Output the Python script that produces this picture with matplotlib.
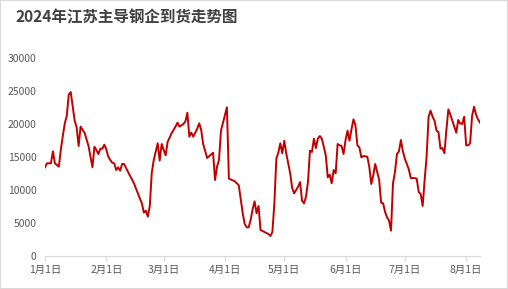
import matplotlib
matplotlib.use('Agg')
import matplotlib.pyplot as plt
import matplotlib.dates as mdates
from matplotlib.patches import Rectangle
import pandas as pd

plt.rcParams['font.family'] = ['Noto Sans CJK SC', 'DejaVu Sans']

title = '2024年江苏主导钢企到货走势图'

# days since 2024-01-01
day_offset = [0, 1, 3, 4, 5, 6, 7, 8, 9, 10, 11, 12, 13, 14, 15, 16, 17, 18, 19, 20,
              22, 24, 25, 26, 27, 28, 29, 30, 31, 32, 33, 34, 35, 36, 37, 38, 39, 40, 42, 45,
              48, 49, 50, 51, 52, 53, 54, 55, 57, 58, 59, 61, 62, 64, 66, 67, 68, 70, 71, 72,
              73, 74, 75, 77, 78, 79, 80, 82, 85, 86, 87, 88, 89, 92, 93, 96, 98,
              100, 101, 102, 103, 104, 105, 106, 107, 108, 109, 111, 113, 114, 115, 116, 117,
              118, 119, 120, 121, 122,
              124, 125, 126, 127, 128, 129, 130, 131, 132, 133, 134, 135, 136, 137, 138, 139,
              140, 141, 142, 143, 144,
              145, 146, 147, 148, 149, 150, 151, 152, 153, 154, 155, 156, 157, 158, 159, 160,
              161, 163, 164,
              165, 166, 167, 168, 169, 170, 171, 172, 173, 174, 175, 176, 177, 178, 179, 180,
              181, 182, 183, 184,
              185, 187, 188, 189, 190, 191, 192, 193, 194, 195, 196, 197, 198, 199, 200, 201,
              202, 203, 204, 205, 206, 207, 208, 209, 210, 211, 212, 213, 214, 215, 216, 217,
              218, 219, 220]

arrivals = [13440, 14045, 14045, 15860, 14045, 13800, 13540, 16060, 18180, 20100,
            21200, 24440, 24850, 22620, 20500, 19500, 16670, 19600, 19090, 18690,
            16670, 13440, 16560, 16060, 15450, 16260, 16260, 16870, 16160, 15050,
            14545, 14140, 14045, 13030, 13440, 12930, 13940, 13940, 12730, 11010,
            8690, 7980, 6570, 6870, 5960, 7580, 12630, 14545, 17080, 14450,
            16970, 15250, 17270, 18590, 19600, 20200, 19600, 20000, 20400, 21710,
            18080, 18690, 18080, 19300, 20100, 19090, 16970, 14850, 15650, 11520,
            13540, 14545, 18990, 22530, 11720, 11320, 10710,
            6470, 4850, 4350, 4350, 5450, 7070, 8290, 6470, 7580, 3940,
            3640, 3330, 3030, 3640, 7980, 14750, 15650, 17080, 15560, 17470, 15560,
            12530, 10300, 9500, 10000, 10500, 11210, 8380, 7980, 8990, 11210,
            15960, 15760, 17780, 16360, 17780, 18180, 17780, 16560, 15250, 11920, 12320,
            11010, 13030, 12530, 16970, 16770, 16670, 15450, 17580, 18990, 17470,
            19190, 20710, 19800, 16770, 16460, 14950, 15150, 15050, 13540,
            10910, 12220, 13940, 12730, 11520, 8080, 7980, 6670, 5860, 5350,
            3840, 11010, 12730, 15450, 15860, 17580, 15860, 14750, 13940, 13130,
            11820, 11800, 11720, 9700, 9390, 7580, 11520, 15050, 21110, 22020,
            21110, 20500, 18990, 18790, 16260, 16360, 15560, 19090, 22220, 21410,
            20500, 19600, 18690, 20610, 20100, 20000, 21110, 16770, 16770, 17080,
            21210, 22620, 21410, 20710, 20200]

dates = pd.Timestamp('2024-01-01') + pd.to_timedelta(day_offset, unit='D')

fig = plt.figure(figsize=(5.08, 2.89), dpi=100)
fig.patch.set_facecolor('white')
ax = fig.add_axes([45 / 508, 1 - 256 / 289, 435 / 508, 198 / 289])

ax.plot(dates, arrivals, color='#C00000', linewidth=1.4, solid_joinstyle='round')

ax.set_ylim(0, 30000)
ax.set_yticks(range(0, 30001, 5000))
ax.set_xlim(dates[0], dates[-1])
ax.xaxis.set_major_locator(mdates.MonthLocator())
ax.xaxis.set_major_formatter(plt.FuncFormatter(
    lambda v, p: f'{mdates.num2date(v).month}月{mdates.num2date(v).day}日'))

ax.spines[['top', 'right', 'left']].set_visible(False)
ax.spines['bottom'].set_color('#D9D9D9')
ax.tick_params(axis='y', length=0, pad=6, labelsize=7.5, labelcolor='#595959')
ax.tick_params(axis='x', length=3.5, color='#D9D9D9', pad=3, labelsize=7.5,
               labelcolor='#595959')

fig.text(16 / 508, 1 - 17 / 289, title, fontsize=11.2, fontweight='bold',
         color='#404040', ha='left', va='center')

fig.patches.append(Rectangle((0, 0), 1, 1, transform=fig.transFigure, fill=False,
                             edgecolor='#D9D9D9', linewidth=1.5))

fig.savefig('out.png', dpi=100)
